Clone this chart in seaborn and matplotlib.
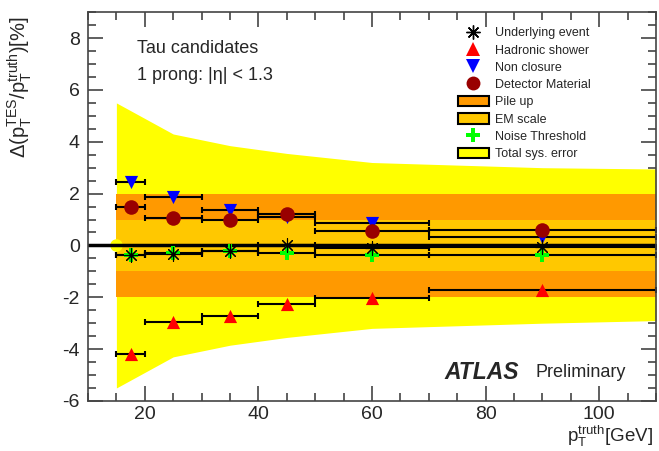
import numpy as np
import pandas as pd
import matplotlib
matplotlib.use("Agg")
import matplotlib.pyplot as plt
from matplotlib.lines import Line2D
from matplotlib.patches import Patch
from matplotlib.ticker import MultipleLocator
import seaborn as sns

# --- data ---
bin_centres = [17.5, 25, 35, 45, 60, 90]
bin_halfwidth = [2.5, 5, 5, 5, 10, 20]

underlying_event = [-0.38, -0.33, -0.2, 0.03, -0.08, -0.06]
hadronic_shower = [-4.18, -2.95, -2.72, -2.27, -2.04, -1.72]
non_closure = [2.46, 1.88, 1.35, 1.1, 0.85, 0.33]
detector_material = [1.47, 1.04, 1.0, 1.23, 0.54, 0.6]
noise_threshold = [-0.35, -0.3, -0.22, -0.3, -0.35, -0.35]

band_x = [15, 25, 35, 45, 60, 90, 110]
total_up = [5.5, 4.3, 3.85, 3.55, 3.2, 3.0, 2.95]
total_down = [-5.5, -4.3, -3.85, -3.55, -3.2, -3.0, -2.9]
pileup_err = 2.0
emscale_err = 1.0

C_TOTAL = "#ffff00"
C_PILEUP = "#ff9900"
C_EM = "#ffc800"

sns.set_style("ticks")
plt.rcParams['font.family'] = ['Liberation Sans', 'DejaVu Sans']
plt.rcParams['mathtext.default'] = 'regular'
plt.rcParams['axes.unicode_minus'] = False

fig = plt.figure(figsize=(6.59, 4.51), dpi=100)
ax = fig.add_axes([0.1335, 0.111, 0.862, 0.862])

# bands
ax.fill_between(band_x, total_down, total_up, color=C_TOTAL, lw=0, zorder=1)
ax.fill_between([band_x[0], band_x[-1]], -pileup_err, pileup_err, color=C_PILEUP, lw=0, zorder=2)
ax.fill_between([band_x[0], band_x[-1]], -emscale_err, emscale_err, color=C_EM, lw=0, zorder=3)
ax.plot([band_x[0]], [0], 'o', color=C_TOTAL, ms=8, zorder=3.5)
ax.axhline(0, color='black', lw=2.5, zorder=4)

series = [
    ("Non closure", non_closure, 'v', '#0000ff', 90, 1),
    ("Hadronic shower", hadronic_shower, '^', '#ff0000', 90, 2),
    ("Detector Material", detector_material, 'o', '#990000', 110, 3),
    ("Noise Threshold", noise_threshold, 'P', '#00ff00', 90, 4),
    ("Underlying event", underlying_event, (8, 2, 0), 'black', 100, 5),
]

for name, vals, mk, col, sz, z in series:
    df = pd.DataFrame({"pt": bin_centres, "val": vals})
    ax.errorbar(df["pt"], df["val"], xerr=bin_halfwidth, fmt='none', ecolor='black',
                elinewidth=1.5, capsize=2.5, capthick=1.5, zorder=5 + z * 0.1)
    sns.scatterplot(data=df, x="pt", y="val", marker=mk, color=col, s=sz,
                    linewidth=0.8 if mk == (8, 2, 0) else 0, edgecolor=col,
                    ax=ax, zorder=6 + z * 0.1, legend=False)

ax.set_xlim(10, 110)
ax.set_ylim(-6, 9)
ax.xaxis.set_major_locator(MultipleLocator(20))
ax.xaxis.set_minor_locator(MultipleLocator(5))
ax.yaxis.set_major_locator(MultipleLocator(2))
ax.yaxis.set_minor_locator(MultipleLocator(0.5))
ax.tick_params(which='both', direction='in', top=True, right=True, color='#444444', width=1.2)
ax.tick_params(which='major', length=11, labelsize=14, pad=6)
ax.tick_params(axis='x', which='major', pad=4)
ax.tick_params(which='minor', length=5.5)
for s in ax.spines.values():
    s.set_color('#444444')
    s.set_linewidth(1.2)
    s.set_zorder(10)

ax.set_xlabel(r'$p_{T}^{truth}$[GeV]', fontsize=13.5, loc='right', labelpad=0)
ax.set_ylabel(r'$\Delta(p_{T}^{TES}/p_{T}^{truth})[\%]$', fontsize=14.5, loc='top')
ax.yaxis.set_label_coords(-0.095, 0.99)
ax.xaxis.set_label_coords(0.995, -0.06)

fig.text(0.208, 0.893, "Tau candidates", fontsize=13, va='center')
fig.text(0.208, 0.833, "1 prong: |η| < 1.3", fontsize=13, va='center')
fig.text(0.675, 0.175, "ATLAS", fontsize=16.5, fontweight='bold', fontstyle='italic', va='center')
fig.text(0.812, 0.175, "Preliminary", fontsize=13, va='center')

handles = [
    Line2D([], [], ls='none', marker=(8, 2, 0), color='black', ms=10, mew=1),
    Line2D([], [], ls='none', marker='^', color='#ff0000', ms=10, mew=0),
    Line2D([], [], ls='none', marker='v', color='#0000ff', ms=10, mew=0),
    Line2D([], [], ls='none', marker='o', color='#990000', ms=10, mew=0),
    Patch(facecolor=C_PILEUP, edgecolor='black', lw=1.5),
    Patch(facecolor=C_EM, edgecolor='black', lw=1.5),
    Line2D([], [], ls='none', marker='P', color='#00ff00', ms=10, mew=0),
    Patch(facecolor=C_TOTAL, edgecolor='black', lw=1.5),
]
labels = ["Underlying event", "Hadronic shower", "Non closure", "Detector Material",
          "Pile up", "EM scale", "Noise Threshold", "Total sys. error"]
leg = ax.legend(handles, labels, loc='upper left', bbox_to_anchor=(0.651, 0.962),
                frameon=False, fontsize=9, labelspacing=0.38, handlelength=2.5,
                handleheight=0.9, handletextpad=0.5, borderpad=0, borderaxespad=0,
                numpoints=1)
leg.set_zorder(20)

fig.savefig("out.png", dpi=100)
